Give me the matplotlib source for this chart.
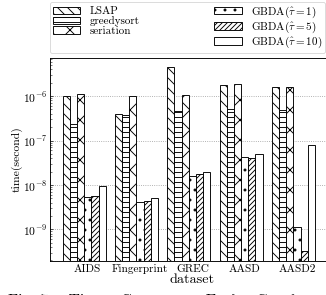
import numpy as np
import matplotlib
matplotlib.use("Agg")
import matplotlib.pyplot as plt

plt.rcParams.update({
    "font.family": "serif",
    "font.serif": ["cmr10"],
    "mathtext.fontset": "cm",
    "axes.formatter.use_mathtext": True,
    "hatch.linewidth": 1.1,
    "hatch.color": "black",
})

datasets = ["AIDS", "Fingerprint", "GREC", "AASD", "AASD2"]
methods = ["LSAP", "greedysort", "seriation",
           r"GBDA($\hat{\tau}=1$)", r"GBDA($\hat{\tau}=5$)", r"GBDA($\hat{\tau}=10$)"]
lsap = [1.0e-6, 4.0e-7, 4.5e-6, 1.77e-6, 1.62e-6]
greedysort = [2.3e-7, 3.7e-7, 4.6e-7, 5.1e-7, 4.8e-7]
seriation = [1.09e-6, 9.8e-7, 1.05e-6, 1.83e-6, 1.62e-6]
gbda1 = [5.3e-9, 4.2e-9, 1.6e-8, 4.3e-8, 1.12e-9]
gbda5 = [5.7e-9, 4.3e-9, 1.8e-8, 4.0e-8, 3.2e-10]
gbda10 = [9.5e-9, 5.0e-9, 2.0e-8, 5.1e-8, 8.1e-8]
series = [lsap, greedysort, seriation, gbda1, gbda5, gbda10]
hatches = ["\\\\", "--", "x", ".", "////", ""]

DPI = 60
fig = plt.figure(figsize=(326 / DPI, 295 / DPI), dpi=DPI)
ax = fig.add_axes([50 / 326, 34 / 295, 285 / 326, 203 / 295])

w = 0.137
x = np.arange(len(datasets))
for i, (vals, h, lab) in enumerate(zip(series, hatches, methods)):
    ax.bar(x + i * w, vals, width=w, facecolor="white", edgecolor="black",
           linewidth=1.1, hatch=h, label=lab, zorder=2)

ax.set_yscale("log")
ax.set_ylim(1.94e-10, 7.2e-6)
ax.set_xlim(-0.311, -0.311 + 285 / 52.3)
ax.set_xticks(x + 3 * w)
ax.set_xticklabels(datasets, fontsize=13.5)
ax.tick_params(axis="x", length=0, pad=4)
ax.tick_params(axis="y", which="major", direction="in", length=4, labelsize=14)
ax.tick_params(axis="y", which="minor", direction="in", length=2)
ax.yaxis.grid(True, which="major", linestyle=":", color="#999999", linewidth=1.0)
ax.set_axisbelow(True)
ax.set_xlabel("dataset", fontsize=17, labelpad=0)
ax.set_ylabel("time(second)", fontsize=14, labelpad=0)
for s in ax.spines.values():
    s.set_linewidth(1.1)

fig.legend(loc="upper left", bbox_to_anchor=(50 / 326, 0, 275 / 326, 293.5 / 295),
           mode="expand", ncol=2, fontsize=13.3, handlelength=2.5,
           handleheight=0.7, handletextpad=0.8, labelspacing=0.0,
           borderpad=0.25, borderaxespad=0, frameon=True, edgecolor="0.8")

fig.text(8 / 326, 0.5 / 295, "Fig. 7:   Time   Cost   per   Each   Graph",
         fontsize=19, va="top", ha="left")

fig.savefig("out.png", dpi=DPI)
